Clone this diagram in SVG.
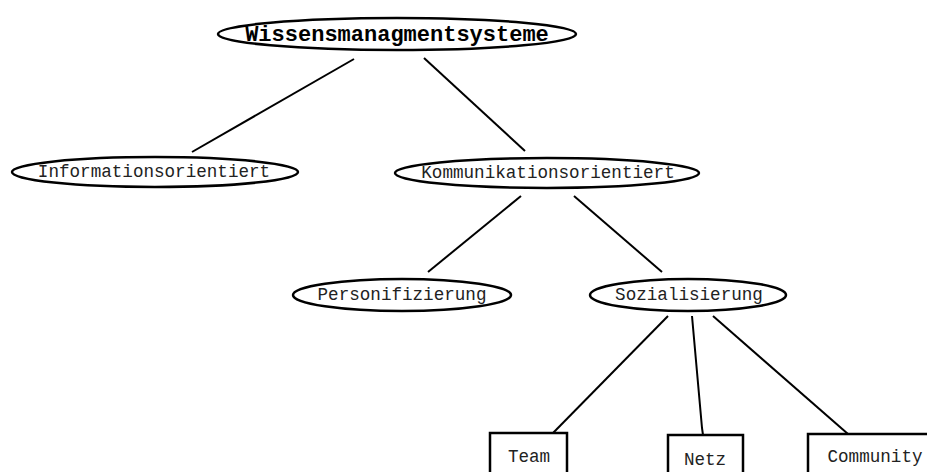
<svg xmlns="http://www.w3.org/2000/svg" width="927" height="472" viewBox="0 0 927 472">
<style>
.n{fill:#fff;stroke:#000;stroke-width:2.5}
.t{font-family:"Liberation Mono","Courier New",monospace;font-size:17.6px;fill:#222;text-anchor:middle}
.b{font-weight:bold;font-size:22px;fill:#000}
.c line,.c path{stroke:#000;stroke-width:2;fill:none}
</style>
<rect width="927" height="472" fill="#fff"/>
<g class="c" id="connectors">
<line x1="354" y1="59" x2="192" y2="152"/>
<line x1="424" y1="58" x2="525" y2="151"/>
<line x1="521" y1="196" x2="428" y2="272"/>
<line x1="574" y1="196" x2="662" y2="272"/>
<line x1="668" y1="316" x2="553" y2="433"/>
<path d="M692 316 L702 428 L703 435"/>
<line x1="713" y1="316" x2="848" y2="434"/>
</g>
<g id="wissen"><ellipse class="n" cx="397" cy="34" rx="179" ry="16"/><text class="t b" x="397" y="41">Wissensmanagmentsysteme</text></g>
<g id="info"><ellipse class="n" cx="155" cy="172" rx="143" ry="15"/><text class="t" x="154" y="177">Informationsorientiert</text></g>
<g id="komm"><ellipse class="n" cx="547" cy="173" rx="152" ry="15"/><text class="t" x="548" y="178">Kommunikationsorientiert</text></g>
<g id="pers"><ellipse class="n" cx="402" cy="295" rx="109" ry="16"/><text class="t" x="402" y="300">Personifizierung</text></g>
<g id="sozial"><ellipse class="n" cx="688" cy="295" rx="98" ry="16"/><text class="t" x="689" y="300">Sozialisierung</text></g>
<g id="team"><rect class="n" x="490" y="433" width="77" height="45"/><text class="t" x="529" y="462">Team</text></g>
<g id="netz"><rect class="n" x="668" y="435" width="75" height="45"/><text class="t" x="705" y="465">Netz</text></g>
<g id="community"><rect class="n" x="808" y="434" width="125" height="45"/><text class="t" x="875" y="462">Community</text></g>
</svg>
